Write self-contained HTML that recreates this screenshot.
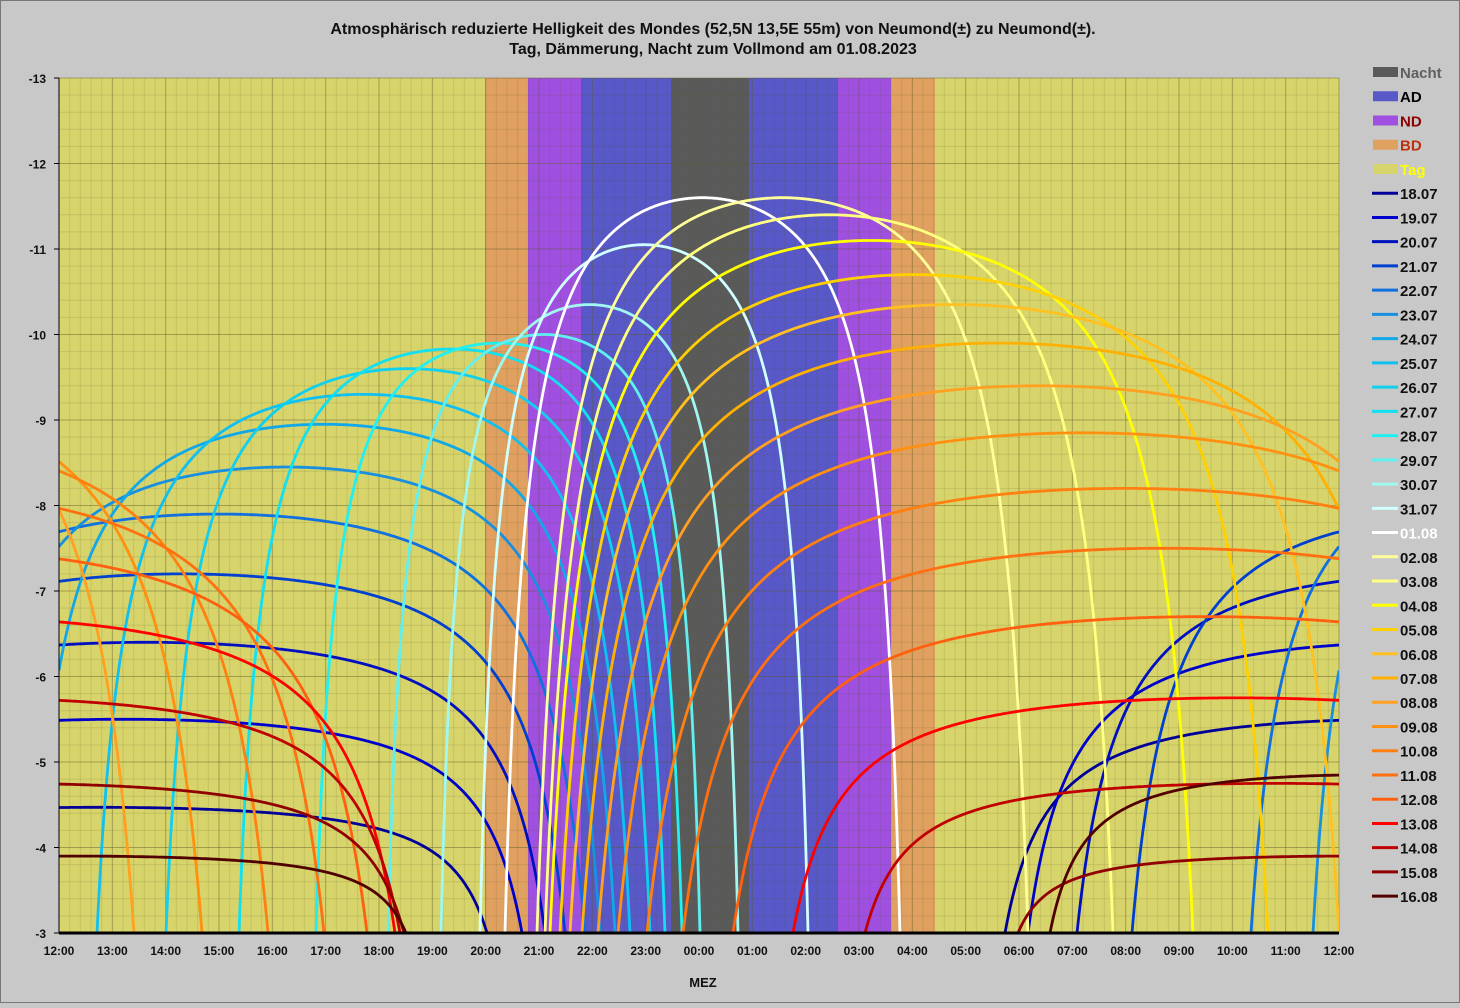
<!DOCTYPE html>
<html><head><meta charset="utf-8">
<style>
html,body{margin:0;padding:0;background:#c8c8c8;}
body{width:1460px;height:1003px;overflow:hidden;font-family:"Liberation Sans",Arial,sans-serif;}
svg text{font-family:"Liberation Sans",Arial,sans-serif;}
</style></head>
<body>
<svg id="c" width="1460" height="1003" xmlns="http://www.w3.org/2000/svg">
<rect x="0.5" y="0.5" width="1459" height="1002" fill="#c8c8c8" stroke="#777" stroke-width="1"/>
<defs><clipPath id="pc"><rect x="59" y="78" width="1280" height="855"/></clipPath></defs>
<text x="713" y="34" text-anchor="middle" font-size="16" font-weight="bold" fill="#111">Atmosphärisch reduzierte Helligkeit des Mondes (52,5N 13,5E  55m) von Neumond(±) zu Neumond(±).</text>
<text x="713" y="54" text-anchor="middle" font-size="16" font-weight="bold" fill="#111">Tag, Dämmerung, Nacht zum Vollmond am 01.08.2023</text>
<g id="bands"></g>
<g id="grid"></g>
<g id="curves" clip-path="url(#pc)"></g>
<line x1="59" y1="933" x2="1339" y2="933" stroke="#000" stroke-width="3"/>
<line x1="59" y1="78" x2="59" y2="933" stroke="#000" stroke-width="1"/>
<g id="axes"></g>
<text x="703" y="987" text-anchor="middle" font-size="13" font-weight="bold" fill="#111">MEZ</text>
<g id="legend"></g>
</svg>
<script>
(function(){
var NS="http://www.w3.org/2000/svg";
function el(p,t,a,txt){var e=document.createElementNS(NS,t);for(var k in a)e.setAttribute(k,a[k]);if(txt!==undefined)e.textContent=txt;document.getElementById(p).appendChild(e);return e;}
var X0=59,X1=1339,Y0=78,Y1=933;
function Y(m){return Y0+(m+13)*85.5;}
var bands=[[59,485,"#d8d46c"],[485,528,"#e0a060"],[528,581,"#a050e0"],[581,671,"#5858c8"],[671,749,"#5a5a5a"],[749,838,"#5858c8"],[838,891,"#a050e0"],[891,935,"#e0a060"],[935,1339,"#d8d46c"]];
bands.forEach(function(b){el("bands","rect",{x:b[0],y:Y0,width:b[1]-b[0],height:Y1-Y0,fill:b[2]});});
for(var i=0;i<=120;i++){var x=X0+i*1280/120;el("grid","line",{x1:x,y1:Y0,x2:x,y2:Y1,stroke:(i%5==0)?"rgba(90,90,40,0.45)":"rgba(90,90,40,0.15)","stroke-width":1});}
for(var j=0;j<=50;j++){var y=Y0+j*855/50;el("grid","line",{x1:X0,y1:y,x2:X1,y2:y,stroke:(j%5==0)?"rgba(90,90,40,0.45)":"rgba(90,90,40,0.15)","stroke-width":1});}
for(var m=-13;m<=-3;m++){el("axes","text",{x:46,y:Y(m)+5,"text-anchor":"end","font-size":"12","font-weight":"bold",fill:"#111"},""+m);el("axes","line",{x1:54,y1:Y(m),x2:59,y2:Y(m),stroke:"#000"});}
var hrs=["12:00","13:00","14:00","15:00","16:00","17:00","18:00","19:00","20:00","21:00","22:00","23:00","00:00","01:00","02:00","03:00","04:00","05:00","06:00","07:00","08:00","09:00","10:00","11:00","12:00"];
hrs.forEach(function(h,i){el("axes","text",{x:X0+i*1280/24,y:955,"text-anchor":"middle","font-size":"12","font-weight":"bold",fill:"#111"},h);});
var cols=["#000099","#0000cc","#0010c0","#0040d0","#1070e0","#1890e0","#10a8e8","#10c0f0","#10d0f0","#10e0f0","#20f0f0","#60f0f0","#a0f8f0","#d0ffff","#ffffff","#ffff99","#ffff80","#ffff00","#ffd000","#ffc020","#ffb000","#ffa020","#ff9010","#ff8010","#ff7010","#ff6010","#ff0000","#c00000","#900000","#500000"];
var names=["18.07","19.07","20.07","21.07","22.07","23.07","24.07","25.07","26.07","27.07","28.07","29.07","30.07","31.07","01.08","02.08","03.08","04.08","05.08","06.08","07.08","08.08","09.08","10.08","11.08","12.08","13.08","14.08","15.08","16.08"];
var D=[[990-1280,487,-4.47],[1005-1280,522,-5.5],[1028-1280,545,-6.4],[1077-1280,565,-7.2],[1132-1280,585,-7.9],[1251-1280,600,-8.45],[1313-1280,615,-8.95],[97,630,-9.3],[166,650,-9.6],[239,665,-9.83],[316,682,-9.9],[388,700,-10.0],[441,738,-10.35],[480,808,-11.05],[505,900,-11.6],
[537,1028,-11.6],[545,1113,-11.4],[550,1193,-11.1],[560,1268,-10.7],[570,1339,-10.35],[582,1414,-9.9],[598,1482,-9.4],[618,1548,-8.85],[647,1604,-8.2],[683,1647,-7.5],[733,1675,-6.7],[793,1680,-5.75],[865,1684,-4.75],[1018,1686,-3.9],[1050,1688,-4.85]];
var e=0.18,A=1/(1+e),B=1/e-A;
function piece(R,S,P,off,col){
  var a=Math.max(X0,R+off),b=Math.min(X1,S+off);if(b<=a)return;
  var pts=[];
  for(var x=a;x<=b+0.01;x+=1){var xx=Math.min(x,b);var s=Math.sin(Math.PI*(xx-off-R)/(S-R));if(s<0)s=0;var f=(1/(s+e)-A)/B;var mg=P+(-3-P)*f;var y=Math.min(Y(mg),Y1+2);pts.push(xx.toFixed(1)+","+y.toFixed(1));}
  el("curves","polyline",{points:pts.join(" "),fill:"none",stroke:col,"stroke-width":"2.8","stroke-linejoin":"round"});
}
D.forEach(function(d,i){
  piece(d[0],d[1],d[2],0,cols[i]);
  if(i+1<D.length)piece(d[0],d[1],d[2],-1280,cols[i+1]);
  if(i>0)piece(d[0],d[1],d[2],1280,cols[i-1]);
});
var ly=72,dy=24.24;
var lg=[["Nacht","#5a5a5a","#606060"],["AD","#5858c8","#000"],["ND","#a050e0","#8b0000"],["BD","#e0a060","#c03010"],["Tag","#d8d46c","#ffff00"]];
lg.forEach(function(t,i){var y=ly+i*dy;el("legend","rect",{x:1373,y:y-5,width:25,height:10,fill:t[1]});el("legend","text",{x:1400,y:y+6,"font-size":"15","font-weight":"bold",fill:t[2]},t[0]);});
names.forEach(function(n,i){var y=ly+(i+5)*dy;el("legend","line",{x1:1372,y1:y,x2:1398,y2:y,stroke:cols[i],"stroke-width":"3"});el("legend","text",{x:1400,y:y+6,"font-size":"15","font-weight":"bold",fill:(n=="01.08")?"#fff":"#111"},n);});
})();
</script>
</body></html>
